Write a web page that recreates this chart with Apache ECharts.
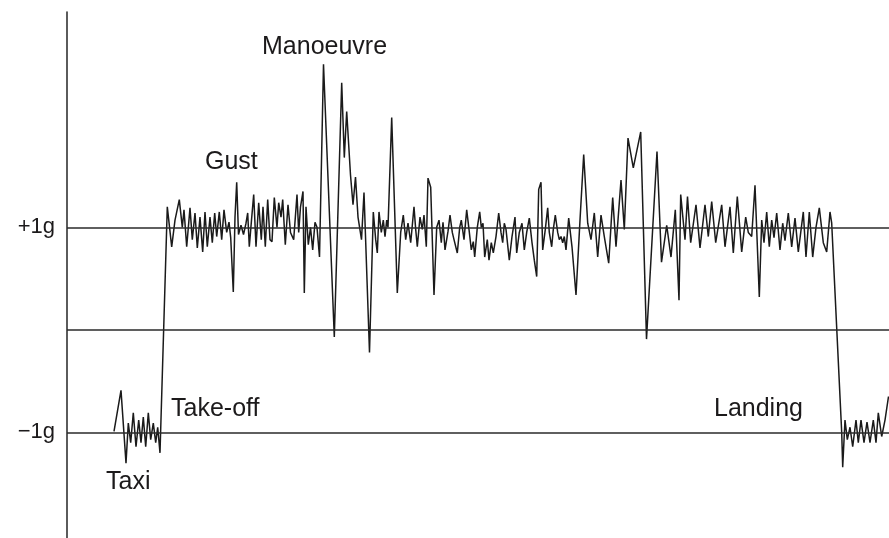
<!DOCTYPE html>
<html>
<head>
<meta charset="utf-8">
<script src="https://cdn.jsdelivr.net/npm/echarts@6/dist/echarts.min.js"></script>
<style>html,body{margin:0;padding:0;background:#fff;}#c{width:889px;height:538px;}</style>
</head>
<body>
<div id="c"></div>
<script>
// time (arbitrary units) and vertical load (g)
const time = [47,54,59,61.3,63.7,66.3,69,71.7,74,76.3,78.7,81.3,83.7,86.3,88.7,90.7,93,
100.3,104.7,108,112.3,115.3,117,119.7,123,125.3,128,130.3,133,135.7,138,140.3,143,145.3,147.7,149.7,152.3,154.7,157,159.7,162,163.7,166.3,168,169.7,171.5,174,176.5,179,180.7,182.3,184.5,186.7,189,191.7,194.3,196,198.3,200.7,203,205,207.3,210,211.7,214,215.7,218.3,221,223.5,226.7,230,231.7,233.5,236,237.3,239,241.3,243.5,245.7,248,250,252.5,
256.5,267.3,274.7,277.3,279.7,283.5,286,288.5,291,294.5,297,302.5,306.3,308.7,310.3,312,314.3,316.3,318,319.7,321,324.7,330.3,333.7,336.3,338.7,341,343.7,347,348.7,350.3,353,355.3,357,359.3,361,363.7,367,369.7,372,374.3,376,378,381,383,385.3,387,390.3,392.7,394.3,397,399.7,402,404.3,406.3,407.7,410.3,412.7,414.3,416,417.7,420.3,422,424.3,426.3,429,431.7,434,435.7,437.3,439,442.3,445,448,449.7,452.3,455,457.3,459.7,462.3,465,467.3,469.7,471.7,474,475.7,478.3,480.7,482.3,484.7,486.3,488.3,490.7,492.3,494,495.7,497.3,499,501.7,505,509,513,516.7,520.7,524,527.3,530.7,534,537.3,541.7,545.7,549,554,557.3,561,566.3,573.7,579.5,590,594.5,599.7,604,608.3,612,613.7,618,620.5,623.7,629,633,638,641.3,644.7,648.7,654.7,658,663,666.3,670.3,674.7,678.7,681.3,684.7,688,692.3,694.7,697,699.7,702.3,704.7,707,709.7,713,715.7,718,721.3,724.7,728,731.3,736.3,739,742.3,745.7,749,752.3,756.3,759.7,763,764.7,
774.7,775.7,778,780.3,783,785.7,789,791.3,794,797,800,803,806.3,809,811.3,814.7,818,821.5];
const load = [-0.99,-0.59,-1.30,-0.91,-1.10,-0.81,-1.14,-0.88,-1.10,-0.85,-1.14,-0.81,-1.07,-0.91,-1.10,-0.95,-1.20,
1.20,0.81,1.07,1.27,1.00,1.17,0.81,1.19,0.88,1.14,0.80,1.10,0.76,1.15,0.81,1.10,0.85,1.14,0.91,1.15,0.88,1.17,0.95,1.05,0.90,0.37,1.10,1.44,0.93,1.02,0.93,1.04,1.14,0.81,1.07,1.32,0.81,1.24,0.88,1.20,0.81,1.27,0.88,0.86,1.29,1.00,1.24,1.10,1.27,0.83,1.22,0.95,0.88,1.32,0.95,1.20,1.35,0.36,1.20,0.83,1.00,0.78,1.05,1.00,0.71,
2.59,-0.07,2.41,1.68,2.13,1.51,1.22,1.49,1.10,0.88,1.34,-0.22,1.15,0.88,0.75,1.15,0.95,1.07,0.91,1.07,1.00,2.07,0.36,0.95,1.12,0.88,1.04,0.85,1.20,0.98,0.81,1.10,0.98,1.12,0.81,1.48,1.39,0.34,1.00,1.07,0.85,1.05,0.78,0.96,1.12,0.95,0.88,0.75,1.00,1.07,0.88,1.17,0.98,0.78,0.86,0.71,1.00,1.15,1.00,1.04,0.71,0.88,0.68,0.85,0.75,0.91,1.14,0.95,0.85,1.04,0.98,0.68,0.91,1.10,0.75,0.95,1.04,0.78,0.95,1.09,0.85,0.68,0.52,1.37,1.44,0.78,0.98,1.19,0.95,0.81,0.98,1.12,0.95,0.88,0.91,0.85,0.91,0.78,1.09,0.81,0.34,1.07,1.71,1.04,0.88,1.14,0.71,1.12,0.91,0.65,1.29,0.81,1.46,0.98,1.87,1.58,1.93,-0.09,1.74,0.66,1.02,0.71,1.17,0.29,1.32,0.88,1.30,0.85,1.22,0.80,1.22,0.91,1.25,0.85,1.22,0.81,1.20,0.75,1.30,0.76,1.10,0.95,0.91,1.41,0.32,1.07,0.85,1.15,0.81,1.07,0.90,1.14,0.78,1.04,0.87,1.14,0.81,1.09,0.76,1.15,0.71,1.15,0.71,1.00,1.19,0.85,0.76,1.15,1.04,
-1.00,-1.34,-0.88,-1.07,-0.95,-1.14,-0.88,-1.10,-0.88,-1.10,-0.90,-1.10,-0.88,-1.10,-0.81,-1.04,-0.88,-0.65];
const refLevels = [1, 0, -1];
const refLabels = ['+1g', '', '\u22121g'];
const annotations = ['Manoeuvre', 'Gust', 'Take-off', 'Taxi', 'Landing'];

const chart = echarts.init(document.getElementById('c'), null, {renderer: 'canvas'});
const pts = time.map((t, i) => [t, load[i]]);
const textStyle = {fontFamily: 'Liberation Sans, Arial, sans-serif', fontSize: 25, fill: '#1c1a1b'};
const annPos = [[262, 35], [205, 150], [171, 397], [106, 470], [714, 397]];
chart.setOption({
  animation: false,
  grid: {left: 67, right: 0, top: 12, bottom: 0},
  xAxis: {type: 'value', min: 0, max: 822, show: false},
  yAxis: {type: 'value', min: -2.03, max: 3.10,
    axisLine: {show: true, onZero: false, lineStyle: {color: '#333', width: 1.6}},
    axisTick: {show: false}, axisLabel: {show: false}, splitLine: {show: false}},
  series: [{
    type: 'line', data: pts, symbol: 'none', silent: true,
    lineStyle: {color: '#1a1a1a', width: 1.5},
    markLine: {
      silent: true, symbol: 'none', animation: false,
      lineStyle: {color: '#2a2a2a', width: 1.5, type: 'solid'},
      data: refLevels.map((v, i) => ({
        yAxis: v,
        label: {show: refLabels[i] !== '', formatter: refLabels[i], position: 'start',
          distance: 12, fontSize: 22, color: '#1c1a1b', fontFamily: 'Liberation Sans, Arial, sans-serif'}
      }))
    }
  }],
  graphic: annotations.map((s, i) => ({
    type: 'text', left: annPos[i][0], top: annPos[i][1],
    style: Object.assign({text: s}, textStyle)
  }))
});
</script>
</body>
</html>
